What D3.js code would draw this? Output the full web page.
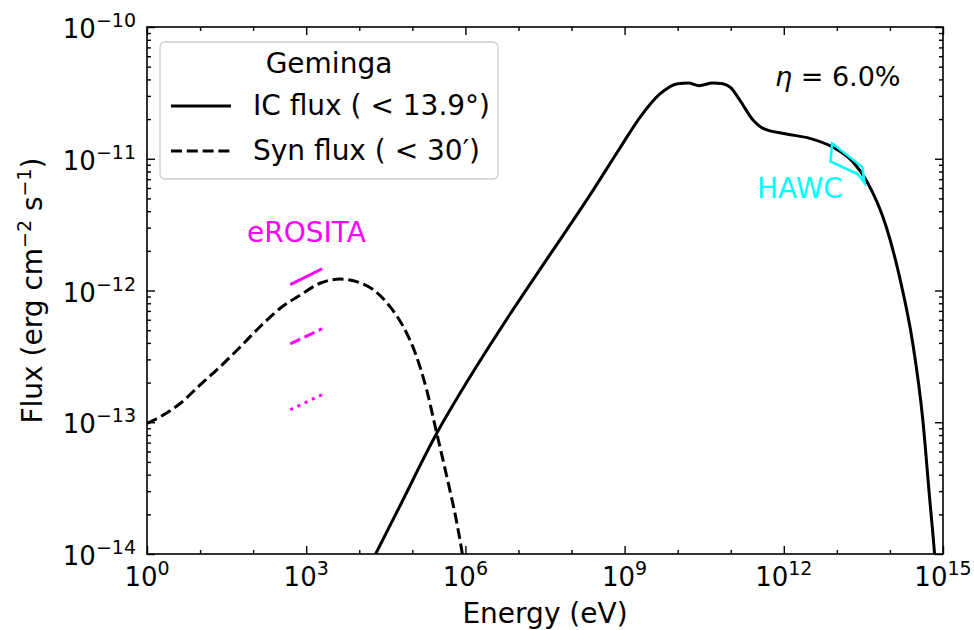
<!DOCTYPE html>
<html>
<head>
<meta charset="utf-8">
<script src="https://cdn.jsdelivr.net/npm/d3@7"></script>
<style>
body { margin: 0; background: #fff; }
text { font-family: "DejaVu Sans", sans-serif; }
</style>
</head>
<body>
<svg id="chart" width="974" height="630"></svg>
<script>
// values, stored as log10(E / eV) and log10(flux)
var icLogE = [4.22, 4.76, 5.46, 6.08, 6.84, 7.59, 8.34, 8.91, 9.30, 9.66, 10.0, 10.2, 10.41, 10.66, 10.85, 11.0,
    11.17, 11.42, 11.61, 12.05, 12.49, 12.93, 13.30, 13.55, 13.93, 14.18, 14.43, 14.62, 14.74, 14.84, 14.86];
var icLogF = [-14.07, -13.64, -13.084, -12.66, -12.18, -11.73, -11.28, -10.92, -10.68, -10.51, -10.43, -10.425, -10.445, -10.425, -10.43, -10.46,
    -10.554, -10.706, -10.769, -10.812, -10.845, -10.913, -11.022, -11.161, -11.516, -11.895, -12.40, -12.983, -13.539, -13.995, -14.1];

var synLogE = [0, 0.25, 0.63, 1.0, 1.38, 1.76, 2.13, 2.51, 2.89, 3.26, 3.64, 3.95, 4.27, 4.58, 4.83, 5.08, 5.27, 5.46, 5.65, 5.84, 5.93, 5.96];
var synLogF = [-13.008, -12.958, -12.856, -12.717, -12.578, -12.427, -12.275, -12.135, -12.034, -11.945, -11.913, -11.933, -11.996, -12.123,
    -12.275, -12.502, -12.755, -13.084, -13.413, -13.767, -13.97, -14.05];

var erositaLogE = [2.699, 3.301];
var erositaSolid = [-11.955, -11.835];
var erositaDashed = [-12.405, -12.29];
var erositaDotted = [-12.905, -12.79];

// HAWC butterfly outline (closed polygon)
var hawcLogE = [12.91, 12.88, 13.39, 13.52, 13.48];
var hawcLogF = [-10.883, -11.02, -11.116, -11.182, -11.063];

var xMajorExp = [0, 3, 6, 9, 12, 15];
var xMinorExp = [1, 2, 4, 5, 7, 8, 10, 11, 13, 14];
var yMajorExp = [-14, -13, -12, -11, -10];

var svg = d3.select("#chart");
var pL = 147, pR = 943, pT = 27, pB = 554;

var x = d3.scaleLog().domain([1, 1e15]).range([pL, pR]);
var y = d3.scaleLog().domain([1e-14, 1e-10]).range([pB, pT]);

var pow = function(v) { return Math.pow(10, v); };
var pts = function(es, fs) { return es.map(function(e, i) { return [pow(e), pow(fs[i])]; }); };

svg.append("defs").append("clipPath").attr("id", "plotClip")
    .append("rect").attr("x", pL).attr("y", pT).attr("width", pR - pL).attr("height", pB - pT);

var line = d3.line().x(function(d) { return x(d[0]); }).y(function(d) { return y(d[1]); });
var smooth = d3.line().x(function(d) { return x(d[0]); }).y(function(d) { return y(d[1]); }).curve(d3.curveMonotoneX);

var plot = svg.append("g").attr("clip-path", "url(#plotClip)");

plot.append("path")
    .attr("d", smooth(pts(synLogE, synLogF)))
    .attr("fill", "none").attr("stroke", "#000").attr("stroke-width", 3)
    .attr("stroke-dasharray", "11,4.8");

plot.append("path")
    .attr("d", smooth(pts(icLogE, icLogF)))
    .attr("fill", "none").attr("stroke", "#000").attr("stroke-width", 3);

[[erositaSolid, null], [erositaDashed, "11,4.8"], [erositaDotted, "3,5"]].forEach(function(s) {
    plot.append("path")
        .attr("d", line(pts(erositaLogE, s[0])))
        .attr("fill", "none").attr("stroke", "#ff00ff").attr("stroke-width", 3)
        .attr("stroke-dasharray", s[1]);
});

plot.append("path")
    .attr("d", line(pts(hawcLogE, hawcLogF)) + "Z")
    .attr("fill", "none").attr("stroke", "#00ffff").attr("stroke-width", 2.5)
    .attr("stroke-linejoin", "miter");

// ticks, all pointing inward
var yMinor = [];
for (var n = -14; n < -10; n++) for (var k = 2; k < 10; k++) yMinor.push(k * pow(n));

function tickAxis(axisFn, scale, values, size, transform) {
    svg.append("g").attr("transform", transform)
        .call(axisFn(scale).tickValues(values).tickSizeInner(-size).tickSizeOuter(0).tickFormat(""))
        .call(function(g) { g.select(".domain").remove(); })
        .selectAll("line").attr("stroke", "#000").attr("stroke-width", 1.4);
}
var xMaj = xMajorExp.map(pow), xMin = xMinorExp.map(pow), yMaj = yMajorExp.map(pow);
tickAxis(d3.axisBottom, x, xMaj, 8, "translate(0," + pB + ")");
tickAxis(d3.axisBottom, x, xMin, 4, "translate(0," + pB + ")");
tickAxis(d3.axisTop, x, xMaj, 8, "translate(0," + pT + ")");
tickAxis(d3.axisTop, x, xMin, 4, "translate(0," + pT + ")");
tickAxis(d3.axisLeft, y, yMaj, 8, "translate(" + pL + ",0)");
tickAxis(d3.axisLeft, y, yMinor, 4, "translate(" + pL + ",0)");
tickAxis(d3.axisRight, y, yMaj, 8, "translate(" + pR + ",0)");
tickAxis(d3.axisRight, y, yMinor, 4, "translate(" + pR + ",0)");

svg.append("rect")
    .attr("x", pL).attr("y", pT).attr("width", pR - pL).attr("height", pB - pT)
    .attr("fill", "none").attr("stroke", "#000").attr("stroke-width", 1.6);

// tick labels as 10^n
function powLabel(g, e) {
    g.append("tspan").text("10");
    g.append("tspan").attr("font-size", 19).attr("dy", -11).text(String(e).replace("-", "\u2212"));
}
xMajorExp.forEach(function(e) {
    var t = svg.append("text").attr("x", x(pow(e))).attr("y", 586)
        .attr("text-anchor", "middle").attr("font-size", 26).attr("fill", "#000");
    powLabel(t, e);
});
yMajorExp.forEach(function(e) {
    var t = svg.append("text").attr("x", 136).attr("y", y(pow(e)) + 11)
        .attr("text-anchor", "end").attr("font-size", 26).attr("fill", "#000");
    powLabel(t, e);
});

// axis titles
svg.append("text").attr("x", (pL + pR) / 2).attr("y", 623)
    .attr("text-anchor", "middle").attr("font-size", 28).text("Energy (eV)");

var yl = svg.append("text")
    .attr("transform", "translate(42," + (pT + pB) / 2 + ") rotate(-90)")
    .attr("text-anchor", "middle").attr("font-size", 28);
yl.append("tspan").text("Flux (erg cm");
yl.append("tspan").attr("font-size", 19).attr("dy", -11).text("\u22122");
yl.append("tspan").attr("dy", 11).text(" s");
yl.append("tspan").attr("font-size", 19).attr("dy", -11).text("\u22121");
yl.append("tspan").attr("dy", 11).text(")");

// annotations
svg.append("text").attr("x", 247).attr("y", 242).attr("font-size", 28).attr("fill", "#ff00ff").text("eROSITA");
svg.append("text").attr("x", 757).attr("y", 198).attr("font-size", 28).attr("fill", "#00ffff").text("HAWC");
var eta = svg.append("text").attr("x", 775).attr("y", 86).attr("font-size", 27);
eta.append("tspan").attr("font-style", "italic").text("\u03b7");
eta.append("tspan").text(" = 6.0%");

// legend
var lg = svg.append("g");
lg.append("rect").attr("x", 160).attr("y", 42).attr("width", 338).attr("height", 137).attr("rx", 5)
    .attr("fill", "#fff").attr("fill-opacity", 0.8).attr("stroke", "#cccccc").attr("stroke-width", 1.3);
lg.append("text").attr("x", 329).attr("y", 73).attr("text-anchor", "middle").attr("font-size", 28).text("Geminga");
lg.append("line").attr("x1", 171).attr("x2", 231).attr("y1", 106).attr("y2", 106)
    .attr("stroke", "#000").attr("stroke-width", 3);
lg.append("text").attr("x", 253).attr("y", 115).attr("font-size", 28).text("IC flux ( < 13.9\u00b0)");
lg.append("line").attr("x1", 171).attr("x2", 231).attr("y1", 151).attr("y2", 151)
    .attr("stroke", "#000").attr("stroke-width", 3).attr("stroke-dasharray", "11,4.8");
lg.append("text").attr("x", 253).attr("y", 160).attr("font-size", 28).text("Syn flux ( < 30\u2032)");
</script>
</body>
</html>
